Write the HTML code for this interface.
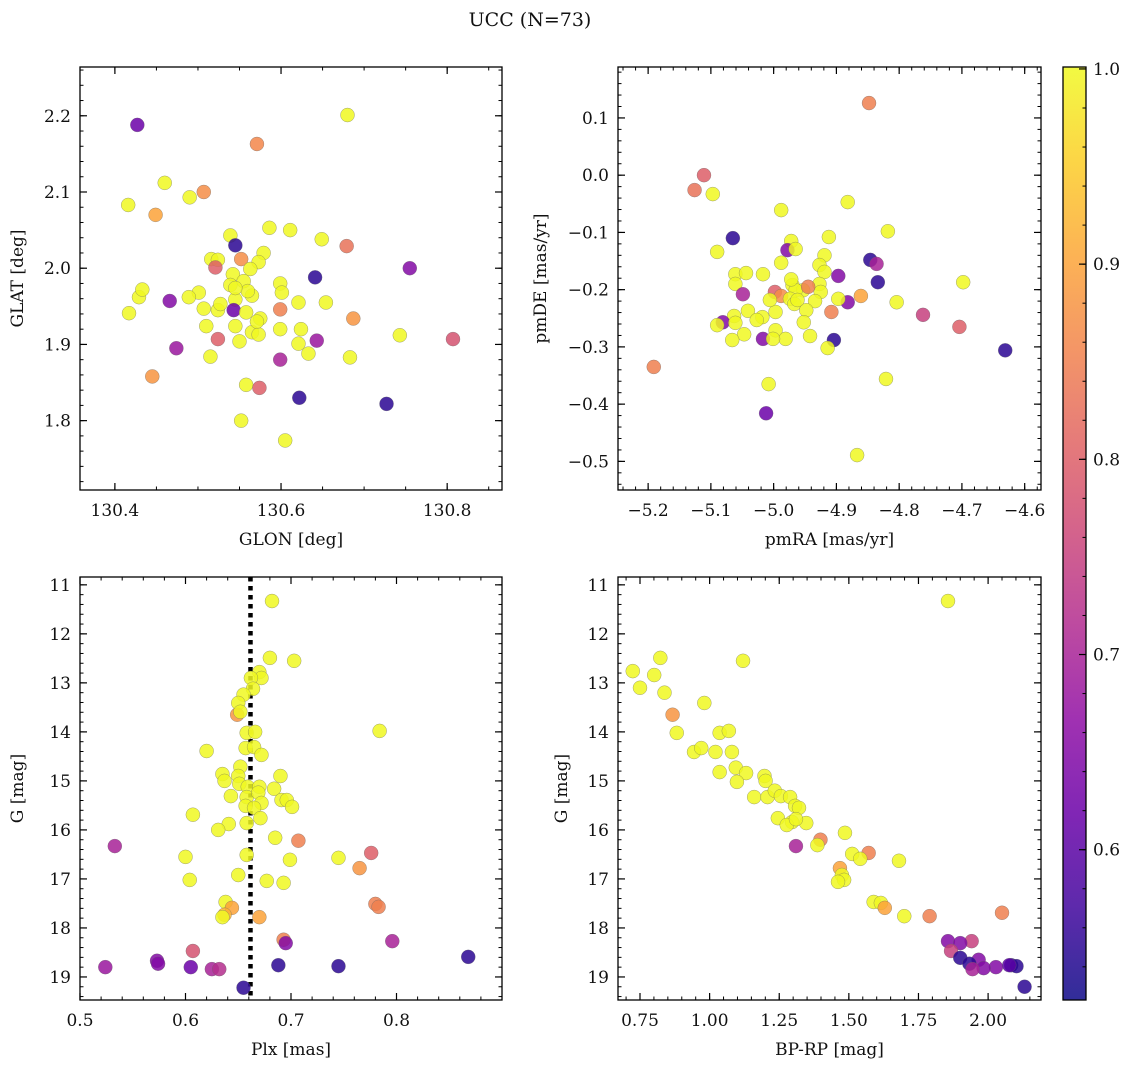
<!DOCTYPE html>
<html><head><meta charset="utf-8">
<style>
html,body{margin:0;padding:0;background:#fff;}
svg{display:block;font-family:"DejaVu Serif","Liberation Serif",serif;}
</style></head>
<body>
<svg id="fig" width="1136" height="1067" viewBox="0 0 1136 1067" xmlns="http://www.w3.org/2000/svg">
<text x="530" y="26" font-size="19" text-anchor="middle" fill="#111">UCC (N=73)</text>
</svg>
<script>
// ---- data: top-left (GLON vs GLAT) ----
const tlGlon = [130.680,130.571,130.427,130.460,130.416,130.490,130.507,130.449,130.539,130.586,130.611,130.649,130.679,130.545,130.552,130.516,130.524,130.579,130.573,130.755,130.641,130.521,130.542,130.555,130.599,130.429,130.433,130.466,130.501,130.545,130.565,130.560,130.601,130.621,130.654,130.489,130.507,130.417,130.524,130.543,130.558,130.575,130.565,130.599,130.510,130.545,130.573,130.599,130.621,130.524,130.643,130.687,130.743,130.807,130.474,130.633,130.515,130.550,130.599,130.683,130.445,130.558,130.574,130.622,130.727,130.552,130.605,130.624,130.527,130.571,130.539,130.563,130.545];
const tlGlat = [2.201,2.163,2.188,2.112,2.083,2.093,2.100,2.070,2.043,2.053,2.050,2.038,2.029,2.030,2.012,2.012,2.011,2.020,2.008,2.000,1.988,2.001,1.992,1.983,1.980,1.962,1.972,1.957,1.968,1.959,1.964,1.970,1.968,1.955,1.955,1.962,1.947,1.941,1.945,1.945,1.942,1.934,1.916,1.946,1.924,1.924,1.913,1.920,1.901,1.907,1.905,1.934,1.912,1.907,1.895,1.888,1.884,1.904,1.880,1.883,1.858,1.847,1.843,1.830,1.822,1.800,1.774,1.920,1.953,1.930,1.978,1.999,1.974];
const tlProb = [1,.86,.62,1,1,1,.87,.9,1,1,1,1,.83,.55,.87,1,1,1,1,.65,.55,.8,1,1,1,1,1,.65,1,1,1,1,1,1,1,1,1,1,1,.62,1,1,1,.85,1,1,1,1,1,.8,.68,.88,1,.78,.68,1,1,1,.7,1,.88,1,.8,.55,.55,1,1,1,1,1,1,1,1];
// ---- data: top-right (pmRA vs pmDE) ----
const trPmra = [-4.848,-5.111,-5.126,-5.097,-4.882,-4.988,-5.065,-4.818,-4.972,-4.912,-5.090,-4.978,-4.965,-4.846,-4.836,-4.919,-4.988,-4.927,-5.017,-5.061,-5.044,-4.919,-4.897,-5.061,-4.834,-4.698,-4.970,-4.927,-4.953,-4.965,-4.925,-4.998,-4.988,-5.049,-4.945,-4.861,-4.882,-4.804,-4.897,-4.974,-4.934,-4.908,-4.967,-4.948,-5.041,-4.997,-5.018,-5.063,-5.027,-5.081,-5.061,-4.762,-5.090,-4.952,-4.704,-4.997,-5.047,-4.942,-5.066,-5.017,-4.981,-4.904,-5.001,-4.631,-4.914,-5.191,-4.821,-5.008,-5.012,-4.867,-4.972,-5.006,-4.962];
const trPmde = [0.126,0.000,-0.026,-0.033,-0.047,-0.061,-0.110,-0.098,-0.115,-0.108,-0.134,-0.131,-0.129,-0.148,-0.155,-0.140,-0.153,-0.157,-0.173,-0.173,-0.171,-0.169,-0.176,-0.190,-0.187,-0.187,-0.192,-0.190,-0.201,-0.201,-0.204,-0.204,-0.211,-0.208,-0.195,-0.211,-0.222,-0.222,-0.216,-0.216,-0.220,-0.239,-0.225,-0.236,-0.237,-0.239,-0.248,-0.246,-0.253,-0.257,-0.258,-0.244,-0.262,-0.257,-0.265,-0.271,-0.278,-0.281,-0.288,-0.286,-0.286,-0.288,-0.286,-0.306,-0.302,-0.335,-0.356,-0.365,-0.416,-0.489,-0.182,-0.218,-0.218];
const trProb = [.85,.8,.83,1,1,1,.55,1,1,1,1,.65,1,.55,.7,1,1,1,1,1,1,1,.65,1,.55,1,1,1,1,1,1,.8,.87,.7,.85,.9,.65,1,1,1,1,.85,1,1,1,1,1,1,1,.65,1,.75,1,1,.8,1,1,1,1,.65,1,.55,1,.55,1,.85,1,1,.62,1,1,1,1];
// ---- data: bottom-left (Plx vs G) ----
const blPlx = [0.682,0.680,0.703,0.670,0.672,0.662,0.664,0.655,0.650,0.649,0.652,0.658,0.666,0.784,0.620,0.657,0.665,0.672,0.652,0.635,0.650,0.690,0.637,0.651,0.659,0.670,0.684,0.643,0.658,0.669,0.691,0.696,0.672,0.701,0.657,0.665,0.671,0.607,0.658,0.641,0.631,0.685,0.707,0.533,0.699,0.658,0.600,0.745,0.776,0.765,0.604,0.677,0.693,0.650,0.638,0.644,0.637,0.635,0.670,0.780,0.783,0.693,0.695,0.796,0.607,0.573,0.574,0.524,0.605,0.625,0.632,0.688,0.745,0.868,0.655];
const blG = [11.33,12.49,12.55,12.78,12.90,12.90,13.12,13.24,13.41,13.65,13.59,14.02,14.00,13.98,14.39,14.33,14.31,14.47,14.71,14.86,14.90,14.90,15.00,15.06,15.12,15.12,15.16,15.31,15.33,15.24,15.39,15.39,15.45,15.53,15.51,15.55,15.76,15.69,15.86,15.88,16.00,16.16,16.22,16.33,16.61,16.51,16.55,16.57,16.47,16.78,17.02,17.04,17.08,16.92,17.47,17.59,17.73,17.78,17.78,17.51,17.57,18.24,18.31,18.27,18.47,18.67,18.73,18.80,18.80,18.84,18.84,18.76,18.78,18.59,19.22];
const blProb = [1,1,1,1,1,1,1,1,1,.88,1,1,1,1,1,1,1,1,1,1,1,1,1,1,1,1,1,1,1,1,1,1,1,1,1,1,1,1,1,1,1,1,.85,.7,1,1,1,1,.8,.88,1,1,1,1,1,.9,.92,1,.9,.85,.85,.85,.65,.7,.78,.65,.65,.68,.62,.7,.72,.55,.55,.55,.55];
// ---- data: bottom-right (BP-RP vs G) ----
const brColor = [1.856,0.724,0.750,0.801,0.823,0.838,0.867,0.981,0.882,1.036,1.069,1.120,0.944,0.970,1.021,1.080,1.094,1.131,1.036,1.098,1.197,1.201,1.160,1.208,1.234,1.256,1.289,1.307,1.321,1.245,1.296,1.277,1.347,1.310,1.486,1.398,1.387,1.310,1.512,1.571,1.541,1.680,1.468,1.475,1.483,1.461,1.589,1.615,1.629,1.699,1.790,2.050,1.856,1.941,1.900,1.867,1.900,1.966,1.933,2.028,1.984,1.944,2.083,2.102,2.131,2.076];
const brG = [11.33,12.76,13.10,12.84,12.49,13.20,13.65,13.41,14.02,14.02,13.98,12.55,14.41,14.33,14.41,14.41,14.73,14.84,14.82,15.02,14.90,15.00,15.33,15.33,15.20,15.31,15.33,15.51,15.55,15.76,15.84,15.90,15.86,15.78,16.06,16.20,16.31,16.33,16.49,16.47,16.59,16.63,16.78,16.92,17.02,17.06,17.47,17.49,17.59,17.76,17.76,17.69,18.27,18.27,18.31,18.47,18.61,18.65,18.73,18.80,18.82,18.84,18.76,18.78,19.20,18.76];
const brProb = [1,1,1,1,1,1,.88,1,1,1,1,1,1,1,1,1,1,1,1,1,1,1,1,1,1,1,1,1,1,1,1,1,1,1,1,.85,1,.7,1,.85,1,1,.9,1,1,1,1,1,.9,1,.85,.85,.65,.75,.65,.75,.55,.65,.55,.65,.65,.7,.55,.55,.55,.6];
// ---- tick labels ----
const tlXTicks = [130.4,130.6,130.8];
const tlYTicks = [1.8,1.9,2.0,2.1,2.2];
const trXTicks = [-5.2,-5.1,-5.0,-4.9,-4.8,-4.7,-4.6];
const trYTicks = [-0.5,-0.4,-0.3,-0.2,-0.1,0.0,0.1];
const blXTicks = [0.5,0.6,0.7,0.8];
const gTicks = [11,12,13,14,15,16,17,18,19];
const brXTicks = [0.75,1.00,1.25,1.50,1.75,2.00];
const cbTicks = [0.6,0.7,0.8,0.9,1.0];
const plxLine = 0.6616;

const NS='http://www.w3.org/2000/svg';
const svg=document.getElementById('fig');
function mk(tag,attrs,parent){const e=document.createElementNS(NS,tag);for(const k in attrs)e.setAttribute(k,attrs[k]);(parent||svg).appendChild(e);return e;}

const plasma=[[13,8,135],[65,4,157],[106,0,168],[143,13,164],[177,42,144],[204,71,120],[225,100,98],[242,132,75],[252,166,54],[252,206,37],[240,249,33]];
const VMIN=0.523,VMAX=1.001;
function cmap(v){let t=(v-VMIN)/(VMAX-VMIN);t=Math.max(0,Math.min(1,t));const s=t*10,i=Math.min(9,Math.floor(s)),f=s-i;const a=plasma[i],b=plasma[i+1];return 'rgb('+[0,1,2].map(k=>Math.round(a[k]+(b[k]-a[k])*f)).join(',')+')';}

function fmt(v,d){const s=Math.abs(v).toFixed(d);return (v<-1e-9?'\u2212':'')+s;}

function panel(o){
  const g=mk('g',{});
  
  
  const sx=v=>o.L+(v-o.x0)/(o.x1-o.x0)*(o.R-o.L);
  const sy=v=>o.B-(v-o.y0)/(o.y1-o.y0)*(o.B-o.T);
  const minor=(a0,a1,step,fn)=>{const st=Math.ceil(a0/step-1e-6);for(let k=st;k*step<=a1+1e-9;k++)fn(k*step);};
  minor(Math.min(o.x0,o.x1),Math.max(o.x0,o.x1),o.xm,v=>{const x=sx(v);mk('line',{x1:x,x2:x,y1:o.B,y2:o.B-3.5,stroke:'#000','stroke-width':1},g);mk('line',{x1:x,x2:x,y1:o.T,y2:o.T+3.5,stroke:'#000','stroke-width':1},g);});
  minor(Math.min(o.y0,o.y1),Math.max(o.y0,o.y1),o.ym,v=>{const y=sy(v);mk('line',{x1:o.L,x2:o.L+3.5,y1:y,y2:y,stroke:'#000','stroke-width':1},g);mk('line',{x1:o.R,x2:o.R-3.5,y1:y,y2:y,stroke:'#000','stroke-width':1},g);});
  o.xt.forEach(v=>{const x=sx(v);mk('line',{x1:x,x2:x,y1:o.B,y2:o.B-7,stroke:'#000','stroke-width':1.2},g);mk('line',{x1:x,x2:x,y1:o.T,y2:o.T+7,stroke:'#000','stroke-width':1.2},g);
    const t=mk('text',{x:x,y:o.B+26,'font-size':17,'text-anchor':'middle',fill:'#111'},g);t.textContent=fmt(v,o.xd);
    
    });
  o.yt.forEach(v=>{const y=sy(v);mk('line',{x1:o.L,x2:o.L+7,y1:y,y2:y,stroke:'#000','stroke-width':1.2},g);mk('line',{x1:o.R,x2:o.R-7,y1:y,y2:y,stroke:'#000','stroke-width':1.2},g);
    const t=mk('text',{x:o.L-9,y:y+6,'font-size':17,'text-anchor':'end',fill:'#111'},g);t.textContent=fmt(v,o.yd);
    
    });
  if(o.vline!==undefined){const x=sx(o.vline);const l=mk('line',{x1:x,x2:x,y1:o.T,y2:o.B,stroke:'#000','stroke-width':4.5,'stroke-dasharray':'4.5,4.5'},g);
    
    }
  const n=Math.min(o.xs.length,o.ys.length,o.ps.length);
  for(let i=0;i<n;i++){
    const c=mk('circle',{cx:sx(o.xs[i]),cy:sy(o.ys[i]),r:7,fill:cmap(o.ps[i]),'fill-opacity':0.85,stroke:'#666','stroke-opacity':0.6,'stroke-width':0.5},g);
    
    
  }
  const fr=mk('rect',{x:o.L,y:o.T,width:o.R-o.L,height:o.B-o.T,fill:'none',stroke:'#000','stroke-width':1.3},g);
  
  
  const xl=mk('text',{x:(o.L+o.R)/2,y:o.B+55,'font-size':17,'text-anchor':'middle',fill:'#111'},g);xl.textContent=o.xlab;
  
  
  const yx=o.ylx,yy=(o.T+o.B)/2;
  const yl=mk('text',{x:yx,y:yy,'font-size':17,'text-anchor':'middle',fill:'#111',transform:'rotate(-90 '+yx+' '+yy+')'},g);yl.textContent=o.ylab;
  
  
}

panel({name:'glon-glat-panel',L:80,R:502,T:67,B:490,x0:130.358,x1:130.866,y0:1.709,y1:2.264,xt:tlXTicks,yt:tlYTicks,xm:0.05,ym:0.02,xd:1,yd:1,xs:tlGlon,ys:tlGlat,ps:tlProb,xlab:'GLON [deg]',ylab:'GLAT [deg]',ylx:23});
panel({name:'pm-panel',L:618,R:1041,T:67,B:490,x0:-5.248,x1:-4.574,y0:-0.550,y1:0.189,xt:trXTicks,yt:trYTicks,xm:0.02,ym:0.02,xd:1,yd:1,xs:trPmra,ys:trPmde,ps:trProb,xlab:'pmRA [mas/yr]',ylab:'pmDE [mas/yr]',ylx:546});
panel({name:'plx-g-panel',L:80,R:502,T:577,B:1000,x0:0.5,x1:0.9,y0:19.47,y1:10.84,xt:blXTicks,yt:gTicks,xm:0.02,ym:0.2,xd:1,yd:0,xs:blPlx,ys:blG,ps:blProb,xlab:'Plx [mas]',ylab:'G [mag]',ylx:23,vline:plxLine});
panel({name:'cmd-panel',L:618,R:1041,T:577,B:1000,x0:0.671,x1:2.190,y0:19.47,y1:10.84,xt:brXTicks,yt:gTicks,xm:0.05,ym:0.2,xd:2,yd:0,xs:brColor,ys:brG,ps:brProb,xlab:'BP-RP [mag]',ylab:'G [mag]',ylx:567});

// colorbar
(function(){
  const L=1063,R=1086,T=67,B=1000;
  const g=mk('g',{});
  
  
  const defs=mk('defs',{},g);
  const lg=mk('linearGradient',{id:'pl',x1:0,y1:1,x2:0,y2:0},defs);
  plasma.forEach((c,i)=>mk('stop',{offset:(i/10),'stop-color':'rgb('+c.join(',')+')','stop-opacity':0.85},lg));
  mk('rect',{x:L,y:T,width:R-L,height:B-T,fill:'url(#pl)'},g);
  const sy=v=>B-(v-VMIN)/(VMAX-VMIN)*(B-T);
  for(let k=Math.ceil(VMIN/0.02);k*0.02<=VMAX;k++){const y=sy(k*0.02);mk('line',{x1:R,x2:R-3.5,y1:y,y2:y,stroke:'#000','stroke-width':1},g);}
  cbTicks.forEach(v=>{const y=sy(v);mk('line',{x1:R,x2:R-7,y1:y,y2:y,stroke:'#000','stroke-width':1.2},g);
    const t=mk('text',{x:R+7,y:y+6,'font-size':17,fill:'#111'},g);t.textContent=v.toFixed(1);
    
    });
  mk('rect',{x:L,y:T,width:R-L,height:B-T,fill:'none',stroke:'#000','stroke-width':1.3},g);
})();
</script>
</body></html>
